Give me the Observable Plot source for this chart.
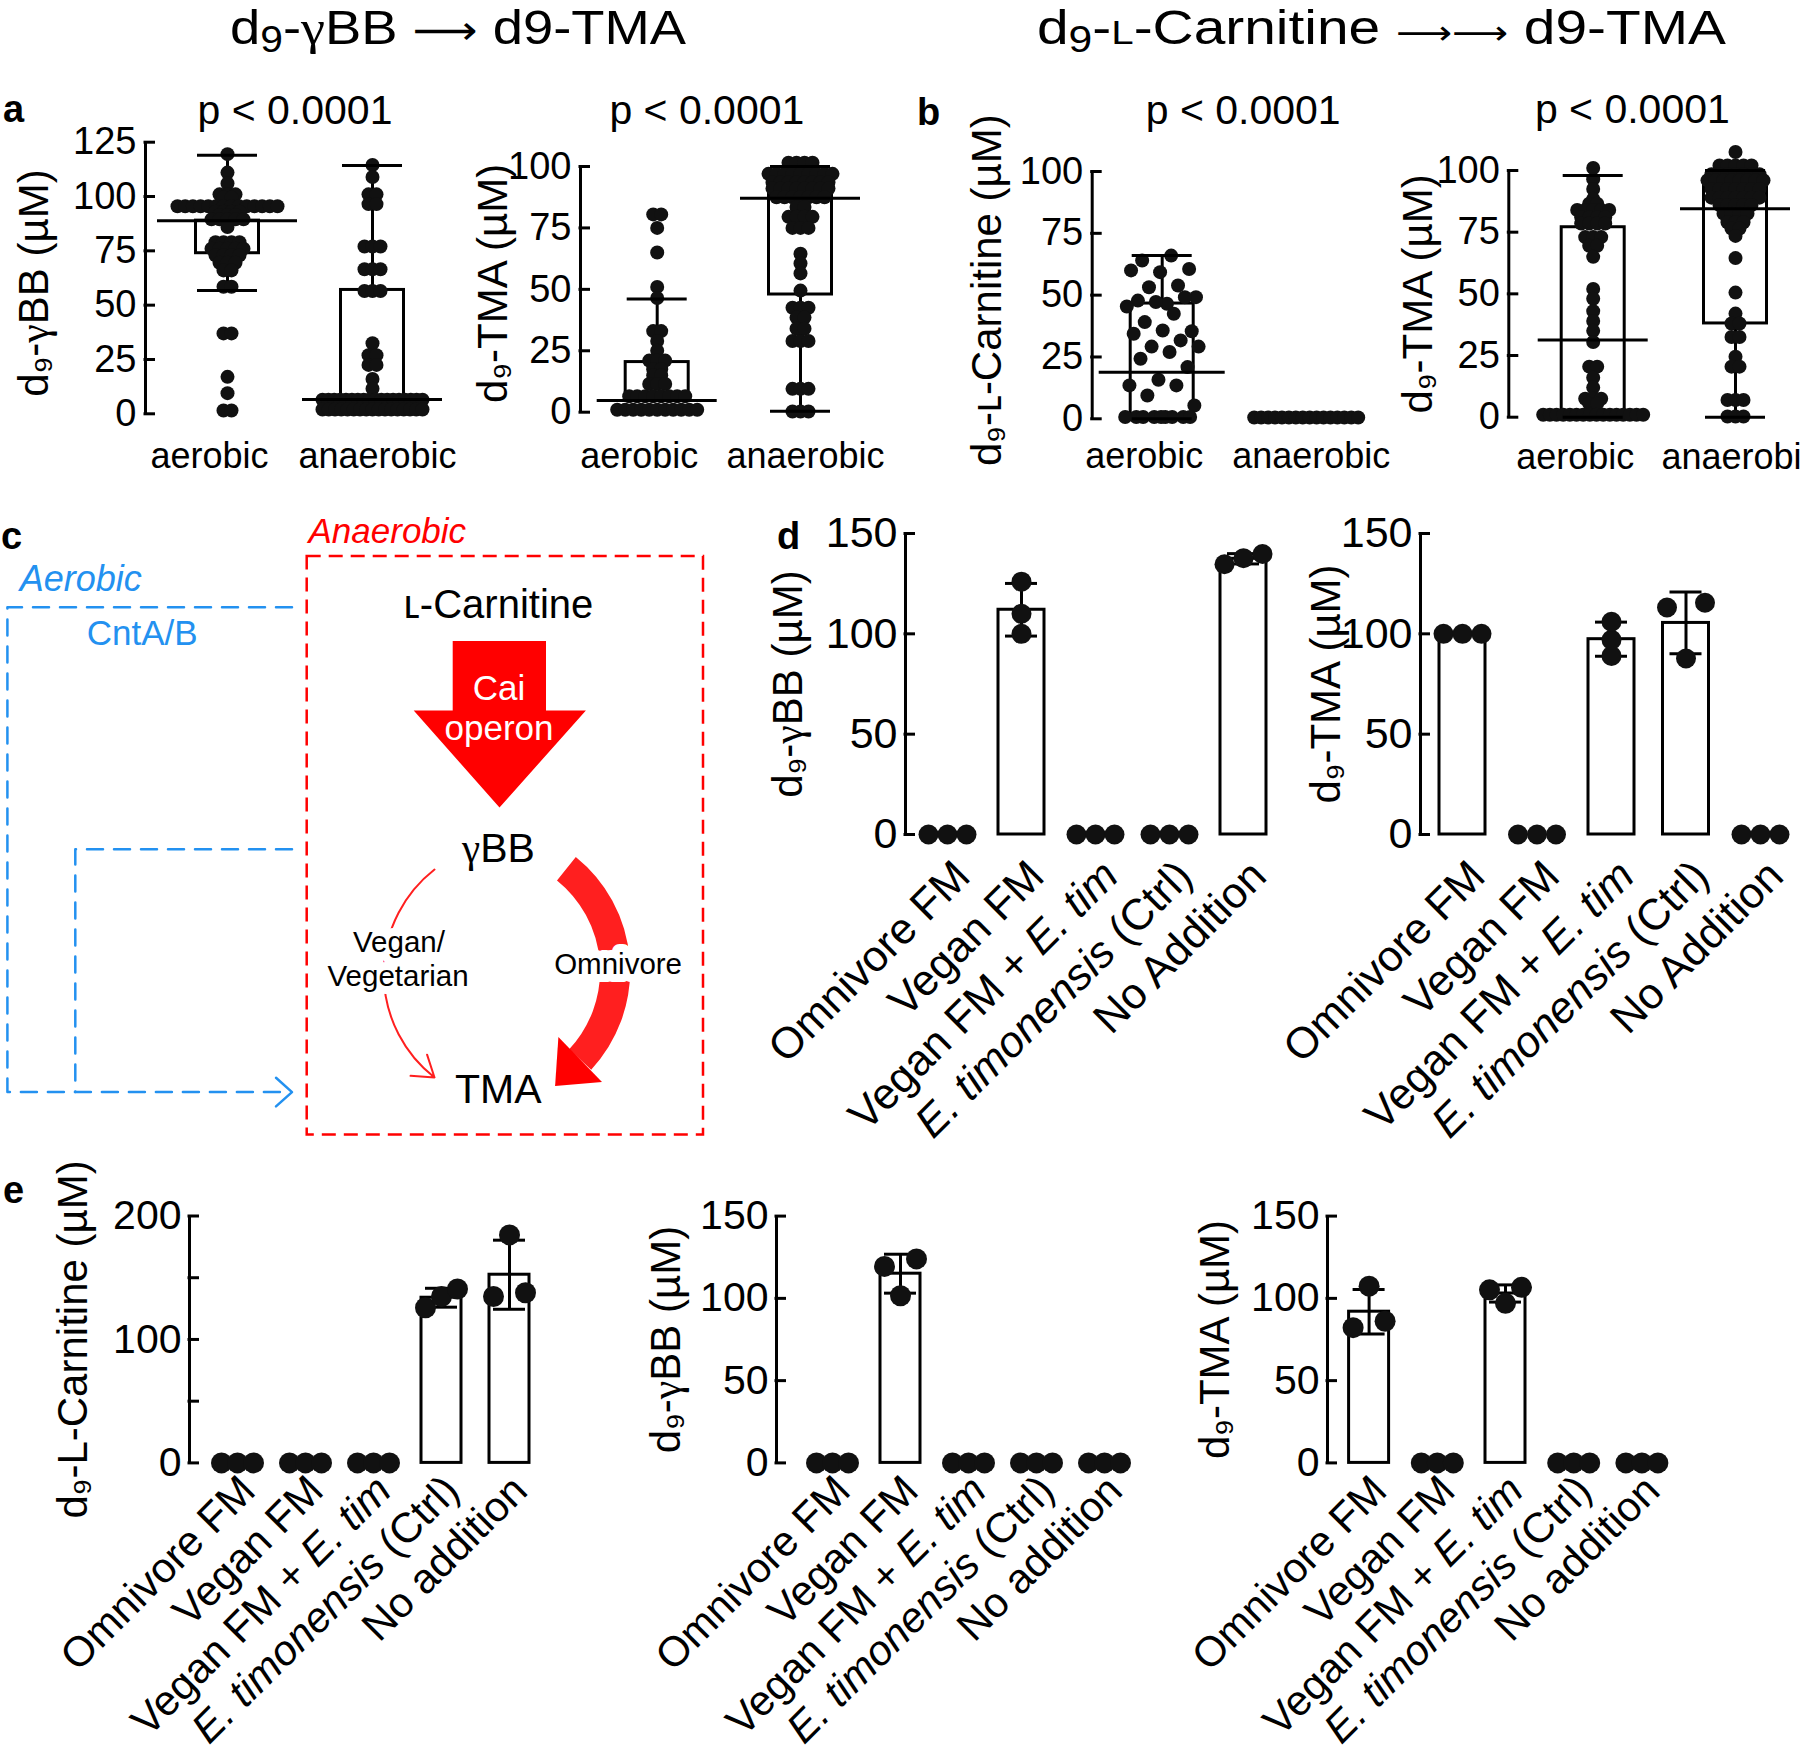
<!DOCTYPE html>
<html><head><meta charset="utf-8">
<script src="https://cdn.jsdelivr.net/npm/d3@7"></script>
<script src="https://cdn.jsdelivr.net/npm/@observablehq/plot@0.6"></script>
<style>
html,body{margin:0;padding:0;background:#fff;}
#fig{position:relative;width:1800px;height:1749px;overflow:hidden;background:#fff;}
#fig > svg{position:absolute;left:0;top:0;background:transparent !important;overflow:visible;}
</style></head>
<body><div id="fig"></div>
<script>
// ================= DATA =================
const conditionsAB = ["aerobic", "anaerobic"];
const pValueText = "p < 0.0001";

// panel a: rows of [value (µM), number of samples at that value]
const aGbbAerobicRows = [[119.5,1],[111,1],[106,1],[101,3],[99.5,2],[95.5,14],[93,4],[91.5,3],[89.5,5],[86,1],[79,4],[76,5],[73,4],[69.5,3],[66,2],[58.5,2],[37,2],[17,1],[9.5,1],[1.5,2]];
const aGbbAnaerobicRows = [[114.5,1],[109,1],[101,2],[96.5,2],[77,3],[66.5,3],[56.5,3],[32.5,1],[27,2],[22.5,2],[16,1],[11.5,1],[6.5,18],[2,17]];
const aTmaAerobicRows = [[80.5,2],[75,1],[65,1],[51,1],[46.5,1],[33,2],[29,1],[25,1],[21,3],[17.5,2],[15,2],[11.5,3],[6.5,8],[1,11]];
const aTmaAnaerobicRows = [[101.5,4],[97,9],[93.5,8],[91,8],[87.5,7],[83.5,2],[79.5,4],[75,3],[64.5,1],[60.5,1],[56.5,1],[49.5,1],[42.5,3],[38.5,2],[34,2],[29,3],[9.5,3],[0.3,3]];
// panel b
const bCarnitineAerobicValues = [66,64,60.6,59.3,60,53.9,53.2,49.2,46.5,47.8,49.2,47.2,45.4,42.5,39.1,35.4,35.7,34.4,31.7,29.2,29.2,27,24.3,20.9,15.8,13.5,13.5,9.4,5.4,0.7,0.7,0.7,0.7,0.7,0.7,0.7,0.7,0.7];
const bCarnitineAnaerobicRows = [[0.5,16]];
const bTmaAerobicRows = [[101,1],[96.5,1],[92.5,1],[88.5,1],[86.5,2],[84,5],[81,4],[78.5,4],[73,3],[69.5,2],[65,1],[52,1],[48,1],[43,1],[39,1],[35,1],[30.5,1],[20.5,2],[16,1],[12,1],[7.5,3],[5.5,2],[1,16]];
const bTmaAnaerobicRows = [[107.5,1],[102,5],[98.5,7],[96,8],[92.5,7],[89,7],[86,5],[82.5,4],[79,3],[76.5,2],[73.5,1],[64.5,1],[50.5,1],[42,1],[38,2],[32.5,2],[24.5,1],[20.5,2],[7,3],[0.3,3]];

// summary lines [aerobic, anaerobic]
const aGbbBoxLow = [73.9, 6.6], aGbbBoxHigh = [88.9, 57], aGbbCenter = [88.9, 6.6], aGbbWhiskerLow = [56.7, 6.6], aGbbWhiskerHigh = [119, 114.3];
const aTmaBoxLow = [4.8, 47.9], aTmaBoxHigh = [20.4, 98], aTmaCenter = [4.8, 87.1], aTmaWhiskerLow = [4.8, 0.4], aTmaWhiskerHigh = [46.1, 100];
const bCarBoxLow = [0, null], bCarBoxHigh = [46.6, null], bCarCenter = [18.8, null], bCarWhiskerLow = [0, null], bCarWhiskerHigh = [66, null];
const bTmaBoxLow = [0, 38], bTmaBoxHigh = [77, 95], bTmaCenter = [31.3, 84.5], bTmaWhiskerLow = [0, 0], bTmaWhiskerHigh = [98, 100];

// panels d, e: replicate values per condition
const treatmentsD = ["Omnivore FM", "Vegan FM", "Vegan FM + E. tim", "E. timonensis (Ctrl)", "No Addition"];
const treatmentsE = ["Omnivore FM", "Vegan FM", "Vegan FM + E. tim", "E. timonensis (Ctrl)", "No addition"];
const italicNames = /(E\. timonensis|E\. tim)/;
const dGbb = [[0,0,0],[126,110,100],[0,0,0],[0,0,0],[134.7,139.8,137.7]];
const dTma = [[100,100,100],[0,0,0],[106,97,89],[115.5,113.1,87.7],[0,0,0]];
const eCarnitine = [[0,0,0],[0,0,0],[0,0,0],[140.9,125.7,134.8],[134.8,184.7,137.8]];
const eGbb = [[0,0,0],[124,119.4,101.6],[0,0,0],[0,0,0],[0,0,0]];
const eTma = [[82.2,107.4,86.1],[0,0,0],[106.7,105.2,97],[0,0,0],[0,0,0]];

// ================= LAYOUT / STYLE =================
const FONT = "'Liberation Sans', Arial, Helvetica, sans-serif";
const SERIF = "'Liberation Serif', 'Times New Roman', serif";
const W = 1800, H = 1749;
const RED = "#ff0000", RED2 = "#ff1f1f", BLUE = "#2391f0";
const fig = document.getElementById("fig");
const catShift = [-18, 5];

const ctx = document.createElement("canvas").getContext("2d");
function textWidth(s, size, italic) {
  ctx.font = `${italic ? "italic " : ""}${size}px 'Liberation Sans', Arial, sans-serif`;
  return ctx.measureText(s).width;
}

function basePlot(o, marks) {
  return Plot.plot({
    width: W, height: H,
    marginLeft: o.axisX, marginRight: 0, marginTop: o.yTop, marginBottom: H - o.y0,
    x: {type: "linear", domain: [-(o.g0 - o.axisX) / o.sp, (W - o.g0) / o.sp], axis: null},
    y: {type: "linear", domain: [0, o.yMax], axis: null},
    style: {fontFamily: FONT, background: "transparent", overflow: "visible"},
    marks
  });
}

function axisMarks(o) {
  const xmin = -(o.g0 - o.axisX) / o.sp;
  return [
    Plot.ruleX([xmin], {y1: 0, y2: o.yMax, stroke: "black", strokeWidth: 3}),
    Plot.ruleY(o.ticks, {y: d => d, x1: xmin - 1.5 / o.sp, x2: xmin + o.tickLen / o.sp, stroke: "black", strokeWidth: 3}),
    Plot.axisY({ticks: o.ticks, tickSize: 0, tickPadding: o.tickPad, fontSize: o.tickFont, tickFormat: o.tickFormat || (d => String(d)), label: null}),
    Plot.text([o.label], {text: d => d, frameAnchor: "left", rotate: -90, textAnchor: "middle", lineAnchor: "bottom", dx: o.labelX - o.axisX, dy: o.labelDy || 0, fontSize: o.labelFont})
  ];
}

function rowPoints(rows, g, step, spread) {
  const pts = [];
  for (const [v, n] of rows) {
    const s = n > 1 ? Math.min(step, spread / (n - 1)) : 0;
    for (let k = 0; k < n; k++) pts.push({g, v, dx: (k - (n - 1) / 2) * s});
  }
  return pts;
}
function jitterPoints(values, g, half) {
  return values.map((v, k) => ({g, v, dx: ((((k + 1) * 0.6180339887) % 1) - 0.5) * 2 * half}));
}

function boxPanel(o) {
  const u = px => px / o.sp;
  const groups = conditionsAB.map((name, i) => ({i, lo: o.boxLow[i], hi: o.boxHigh[i], mid: o.center[i], wlo: o.whiskerLow[i], whi: o.whiskerHigh[i]}));
  const withBox = groups.filter(d => d.lo != null);
  const whiskers = withBox.flatMap(d => [{i: d.i, a: d.hi, b: d.whi}, {i: d.i, a: d.wlo, b: d.lo}]).filter(s => s.a !== s.b);
  const caps = withBox.flatMap(d => [{i: d.i, y: d.whi}, {i: d.i, y: d.wlo}]);
  return basePlot(o, [
    ...axisMarks(o),
    Plot.rect(withBox, {x1: d => d.i - u(o.boxHalf), x2: d => d.i + u(o.boxHalf), y1: "lo", y2: "hi", fill: "none", stroke: "black", strokeWidth: 3}),
    Plot.ruleX(whiskers, {x: "i", y1: "a", y2: "b", stroke: "black", strokeWidth: 3}),
    Plot.dot(o.points, {x: d => d.g + u(d.dx), y: "v", r: 7, fill: "#111", stroke: "none"}),
    Plot.ruleY(withBox, {y: "mid", x1: d => d.i - u(o.midHalf), x2: d => d.i + u(o.midHalf), stroke: "black", strokeWidth: 3}),
    Plot.ruleY(caps, {y: "y", x1: d => d.i - u(30), x2: d => d.i + u(30), stroke: "black", strokeWidth: 3}),
    Plot.text(conditionsAB, {text: d => d, x: (d, i) => i + u(catShift[i]), y: () => 0, dy: o.catBase - o.y0, lineAnchor: "bottom", fontSize: 36}),
    Plot.text([pValueText], {text: d => d, x: () => 0.5 + u(o.pdx), frameAnchor: "top", textAnchor: "middle", dy: o.pBase - o.yTop, lineAnchor: "bottom", fontSize: 41})
  ]);
}

function replicateLayout(vals, g, ppu, step) {
  const sorted = [...vals].sort((a, b) => a - b);
  const clusters = [];
  for (const v of sorted) {
    const last = clusters[clusters.length - 1];
    if (last && (v - last[last.length - 1]) * ppu < 12.5) last.push(v); else clusters.push([v]);
  }
  const out = [];
  for (const c of clusters) {
    const n = c.length;
    const slots = n === 1 ? [0] : n === 2 ? [-1, 1] : c.map((_, k) => k - (n - 1) / 2);
    c.forEach((v, k) => out.push({g, v, dx: slots[k] * step}));
  }
  return out;
}

function labelParts(label, i, o, ppu) {
  const segs = label.split(italicNames).filter(s => s.length).map(s => ({s, italic: italicNames.test(s)}));
  const w = segs.map(g => textWidth(g.s, o.catFont, g.italic));
  return segs.map((g, k) => {
    const trail = w[k] - textWidth(g.s.trimEnd(), o.catFont, g.italic);
    const off = d3.sum(w.slice(k + 1)) + trail;
    return {x: i - off * Math.SQRT1_2 / o.sp, y: -off * Math.SQRT1_2 / ppu, s: g.s.trim(), italic: g.italic};
  });
}

function barPanel(o) {
  const u = px => px / o.sp;
  const ppu = (o.y0 - o.yTop) / o.yMax;
  const bars = o.reps.map((vals, i) => ({i, mean: d3.mean(vals), sd: d3.deviation(vals)}));
  const drawn = bars.filter(b => b.mean > 0);
  const caps = drawn.flatMap(b => [{i: b.i, y: b.mean - b.sd}, {i: b.i, y: b.mean + b.sd}]);
  const pts = o.reps.flatMap((vals, i) => replicateLayout(vals, i, ppu, o.step));
  const parts = o.cats.flatMap((label, i) => labelParts(label, i, o, ppu));
  const labelOpts = {x: "x", y: "y", text: "s", rotate: -45, textAnchor: "end", lineAnchor: "bottom", dx: o.catDx, dy: o.catDy, fontSize: o.catFont};
  return basePlot(o, [
    ...axisMarks(o),
    Plot.rect(drawn, {x1: d => d.i - u(o.barHalf), x2: d => d.i + u(o.barHalf), y1: 0, y2: "mean", fill: "white", stroke: "black", strokeWidth: 3}),
    Plot.ruleX(drawn, {x: "i", y1: d => d.mean - d.sd, y2: d => d.mean + d.sd, stroke: "black", strokeWidth: 3}),
    Plot.ruleY(caps, {y: "y", x1: d => d.i - u(16), x2: d => d.i + u(16), stroke: "black", strokeWidth: 3}),
    Plot.dot(pts, {x: d => d.g + u(d.dx), y: "v", r: o.r, fill: "#111", stroke: "none"}),
    Plot.text(parts.filter(p => !p.italic), labelOpts),
    Plot.text(parts.filter(p => p.italic), {...labelOpts, fontStyle: "italic"})
  ]);
}

// ---------- panel c diagram geometry (page pixels) ----------
const cBox = [{x1: 306.7, y1: 556, x2: 703, y2: 1134.5}];
const cAerobicRoutes = [
  {route: 1, x: 291.5, y: 606.7}, {route: 1, x: 6.9, y: 606.7}, {route: 1, x: 6.9, y: 1091.6}, {route: 1, x: 289, y: 1091.6},
  {route: 2, x: 291.5, y: 848.8}, {route: 2, x: 74.8, y: 848.8}, {route: 2, x: 74.8, y: 1091.6}
];
const cChevron = [{x: 275.5, y: 1077.3}, {x: 291.5, y: 1091.6}, {x: 275.5, y: 1105.9}];
const cCaiArrow = [{x: 452.2, y: 640.6}, {x: 545.5, y: 640.6}, {x: 545.5, y: 710}, {x: 585.4, y: 710}, {x: 499, y: 807}, {x: 413.2, y: 710}, {x: 452.2, y: 710}];
const cMinorRoute = [{x1: 434, y1: 869, x2: 434, y2: 1077}];
const cMajorRoute = [{x1: 565.9, y1: 868.2, x2: 579.7, y2: 1059}];
const cMajorHead = [{x: 557.9, y: 1036.5}, {x: 601.5, y: 1081.4}, {x: 554.6, y: 1085.5}];
const cNodes = [{t: "ʟ-Carnitine", x: 498, y: 617, s: 40}, {t: "γBB", x: 498, y: 861.5, s: 41}, {t: "TMA", x: 497.7, y: 1102, s: 41}];
const cOperon = [{t: "Cai", x: 498.5, y: 699}, {t: "operon", x: 498.5, y: 739}];
const cDiets = [{t: "Vegan/", x: 398.5, y: 951.6}, {t: "Vegetarian", x: 397.6, y: 985}, {t: "Omnivore", x: 617.6, y: 973.3}];

function diagram() {
  const T = (data, opts) => Plot.text(data, {x: "x", y: "y", text: "t", lineAnchor: "bottom", ...opts});
  return Plot.plot({
    width: W, height: H, margin: 0,
    x: {domain: [0, W], range: [0, W], axis: null},
    y: {domain: [0, H], range: [0, H], axis: null},
    style: {fontFamily: FONT, background: "transparent", overflow: "visible"},
    marks: [
      Plot.rect(cBox, {x1: "x1", y1: "y1", x2: "x2", y2: "y2", fill: "none", stroke: RED, strokeWidth: 2.5, strokeDasharray: "14,8"}),
      Plot.line(cAerobicRoutes, {x: "x", y: "y", z: "route", stroke: BLUE, strokeWidth: 2.5, strokeDasharray: "16,11"}),
      Plot.line(cChevron, {x: "x", y: "y", stroke: BLUE, strokeWidth: 2.5}),
      Plot.line(cCaiArrow, {x: "x", y: "y", fill: RED, stroke: "none", curve: "linear-closed"}),
      Plot.arrow(cMinorRoute, {x1: "x1", y1: "y1", x2: "x2", y2: "y2", bend: -52, stroke: RED2, strokeWidth: 2, headLength: 18, headAngle: 68}),
      Plot.arrow(cMajorRoute, {x1: "x1", y1: "y1", x2: "x2", y2: "y2", bend: 47, stroke: RED2, strokeWidth: 30, headLength: 0, strokeLinecap: "butt"}),
      Plot.line(cMajorHead, {x: "x", y: "y", fill: RED, stroke: "none", curve: "linear-closed"}),
      T(cDiets, {fill: "white", stroke: "white", strokeWidth: 16, strokeLinejoin: "round", fontSize: 29.5}),
      T(cDiets, {fill: "black", fontSize: 29.5}),
      T(cNodes, {fill: "black", fontSize: d => d.s}),
      T(cOperon, {fill: "white", fontSize: 35}),
      T([{t: "Anaerobic", x: 308, y: 542}], {fill: RED, fontSize: 35, fontStyle: "italic", textAnchor: "start"}),
      T([{t: "Aerobic", x: 19.3, y: 590}], {fill: BLUE, fontSize: 36, fontStyle: "italic", textAnchor: "start"}),
      T([{t: "CntA/B", x: 86.3, y: 644}], {fill: BLUE, fontSize: 35, textAnchor: "start"})
    ]
  });
}

// ================= BUILD =================
const abCommon = {tickLen: 10, tickPad: 9, tickFont: 38, labelFont: 42, boxHalf: 31.5};
const dCommon = {y0: 834, yTop: 533, yMax: 150, ticks: [0,50,100,150], tickLen: 10, tickPad: 8, tickFont: 43, labelFont: 42, cats: treatmentsD, barHalf: 23, r: 10, step: 19, catFont: 43.5, catDx: 25, catDy: 44};
const eCommon = {y0: 1462.4, yTop: 1215.6, yMax: 150, ticks: [0,50,100,150], tickLen: 10, tickPad: 8, tickFont: 41, labelFont: 42, cats: treatmentsE, barHalf: 20, r: 10.5, step: 16, catFont: 42, catDx: 20, catDy: 30};
const panels = [
  boxPanel({...abCommon, axisX: 145, g0: 227, sp: 145, y0: 413.3, yTop: 141.7, yMax: 125, ticks: [0,25,50,75,100,125],
    label: "d₉-γBB (µM)", labelX: 47, labelDy: 5, midHalf: 70, pdx: -5, pBase: 123, catBase: 467,
    boxLow: aGbbBoxLow, boxHigh: aGbbBoxHigh, center: aGbbCenter, whiskerLow: aGbbWhiskerLow, whiskerHigh: aGbbWhiskerHigh,
    points: [...rowPoints(aGbbAerobicRows, 0, 8, 100), ...rowPoints(aGbbAnaerobicRows, 1, 8, 100)]}),
  boxPanel({...abCommon, axisX: 580, g0: 656.7, sp: 143.3, y0: 411.7, yTop: 166, yMax: 100, ticks: [0,25,50,75,100],
    label: "d₉-TMA (µM)", labelX: 506, labelDy: -6, midHalf: 60, pdx: -22, pBase: 123, catBase: 467,
    boxLow: aTmaBoxLow, boxHigh: aTmaBoxHigh, center: aTmaCenter, whiskerLow: aTmaWhiskerLow, whiskerHigh: aTmaWhiskerHigh,
    points: [...rowPoints(aTmaAerobicRows, 0, 8, 100), ...rowPoints(aTmaAnaerobicRows, 1, 8, 100)]}),
  boxPanel({...abCommon, axisX: 1091.7, g0: 1161.7, sp: 144, y0: 418.3, yTop: 171, yMax: 100, ticks: [0,25,50,75,100],
    label: "d₉-ʟ-Carnitine (µM)", labelX: 1001, labelDy: -5, midHalf: 63, pdx: 9, pBase: 123, catBase: 467,
    boxLow: bCarBoxLow, boxHigh: bCarBoxHigh, center: bCarCenter, whiskerLow: bCarWhiskerLow, whiskerHigh: bCarWhiskerHigh,
    points: [...jitterPoints(bCarnitineAerobicValues, 0, 38), ...rowPoints(bCarnitineAnaerobicRows, 1, 7, 104)]}),
  boxPanel({...abCommon, axisX: 1508.3, g0: 1592.7, sp: 142.3, y0: 416.7, yTop: 170, yMax: 100, ticks: [0,25,50,75,100],
    label: "d₉-TMA (µM)", labelX: 1431, labelDy: 0, midHalf: 55, pdx: -32, pBase: 122, catBase: 468,
    boxLow: bTmaBoxLow, boxHigh: bTmaBoxHigh, center: bTmaCenter, whiskerLow: bTmaWhiskerLow, whiskerHigh: bTmaWhiskerHigh,
    points: [...rowPoints(bTmaAerobicRows, 0, 8, 100), ...rowPoints(bTmaAnaerobicRows, 1, 8, 100)]}),
  diagram(),
  barPanel({...dCommon, axisX: 905, g0: 947, sp: 74, label: "d₉-γBB (µM)", labelX: 801, reps: dGbb}),
  barPanel({...dCommon, axisX: 1420, g0: 1462, sp: 74.5, label: "d₉-TMA (µM)", labelX: 1339, reps: dTma}),
  barPanel({...eCommon, axisX: 189, g0: 237, sp: 68, yTop: 1215.5, yMax: 200, ticks: [0,50,100,150,200], tickFormat: d => d % 100 === 0 ? String(d) : "",
    label: "d₉-L-Carnitine (µM)", labelX: 86, reps: eCarnitine}),
  barPanel({...eCommon, axisX: 776, g0: 832, sp: 68, label: "d₉-γBB (µM)", labelX: 679, reps: eGbb}),
  barPanel({...eCommon, axisX: 1327, g0: 1368.6, sp: 68.2, label: "d₉-TMA (µM)", labelX: 1228, reps: eTma})
];
panels.forEach(p => fig.appendChild(p));

// ---------- titles and panel letters ----------
const ann = d3.select(fig).append("svg").attr("width", W).attr("height", H).attr("font-family", FONT);
const ARROWFONT = "'DejaVu Sans', sans-serif";
const t1 = ann.append("text").attr("x", 230).attr("y", 44).attr("font-size", 48)
  .attr("textLength", 456).attr("lengthAdjust", "spacingAndGlyphs");
t1.append("tspan").text("d");
t1.append("tspan").attr("font-size", 36).attr("dy", 8).text("9");
t1.append("tspan").attr("dy", -8).text("-γBB ");
t1.append("tspan").attr("font-family", ARROWFONT).attr("font-size", 40).text("⟶");
t1.append("tspan").text(" d9-TMA");
const t2 = ann.append("text").attr("x", 1037).attr("y", 44).attr("font-size", 48)
  .attr("textLength", 689).attr("lengthAdjust", "spacingAndGlyphs");
t2.append("tspan").text("d");
t2.append("tspan").attr("font-size", 36).attr("dy", 8).text("9");
t2.append("tspan").attr("dy", -8).text("-");
t2.append("tspan").attr("font-size", 34).text("L");
t2.append("tspan").text("-Carnitine ");
t2.append("tspan").attr("font-family", ARROWFONT).attr("font-size", 33).text("⟶⟶");
t2.append("tspan").text(" d9-TMA");
const panelLetters = [{t: "a", x: 3, y: 122}, {t: "b", x: 917, y: 125}, {t: "c", x: 1, y: 549}, {t: "d", x: 777, y: 549}, {t: "e", x: 3, y: 1203}];
ann.selectAll("text.letter").data(panelLetters).join("text").attr("class", "letter")
  .attr("x", d => d.x).attr("y", d => d.y).attr("font-size", 38).attr("font-weight", "bold").text(d => d.t);

// serif gamma, as in the original typesetting
(function serifGamma(root) {
  const walker = document.createTreeWalker(root, NodeFilter.SHOW_TEXT);
  const nodes = [];
  while (walker.nextNode()) {
    const n = walker.currentNode;
    if (n.nodeValue.includes("γ") && n.parentNode.nodeName !== "style") nodes.push(n);
  }
  for (const node of nodes) {
    const parts = node.nodeValue.split("γ");
    const frag = document.createDocumentFragment();
    parts.forEach((p, k) => {
      if (k > 0) {
        const t = document.createElementNS("http://www.w3.org/2000/svg", "tspan");
        t.setAttribute("font-family", SERIF);
        t.textContent = "γ";
        frag.appendChild(t);
      }
      if (p) frag.appendChild(document.createTextNode(p));
    });
    node.parentNode.replaceChild(frag, node);
  }
})(fig);
</script>
</body></html>
